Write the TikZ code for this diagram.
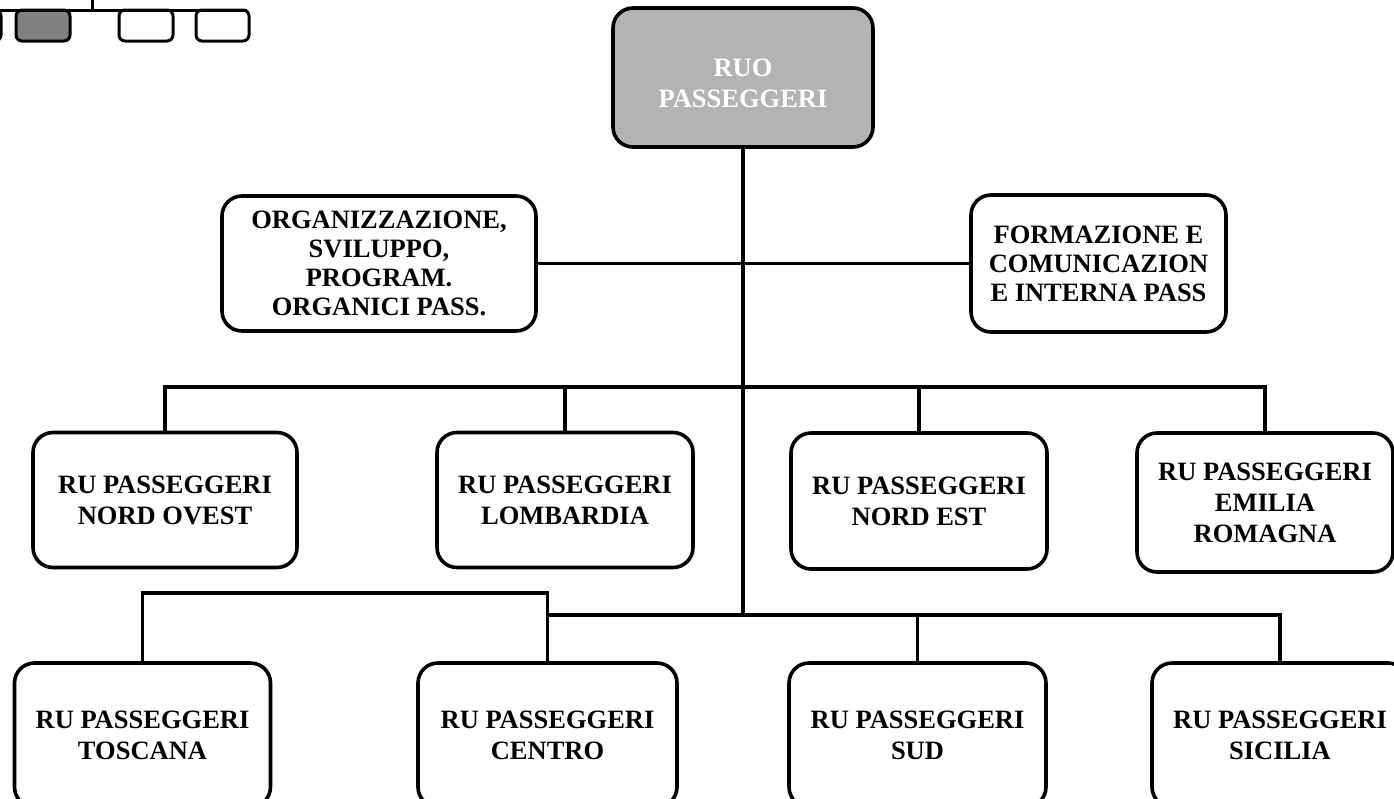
\documentclass[tikz,border=0pt]{standalone}
\usepackage{fontspec}
\setmainfont{Liberation Serif}
\definecolor{boxgray}{RGB}{179,179,179}
\definecolor{icongray}{RGB}{128,128,128}
\begin{document}
\begin{tikzpicture}[x=1pt,y=-1pt,
  unit/.style={draw=black,line width=3.6pt,rounded corners=20pt,fill=white,
    align=center,inner sep=0pt,font=\bfseries\fontsize{26.5}{31}\selectfont},
  staff/.style={unit,font=\bfseries\fontsize{26.5}{29}\selectfont},
  link/.style={line width=3.2pt,line cap=rect},
  iconbox/.style={draw=black,line width=3pt,rounded corners=6pt}]
\useasboundingbox (0,0) rectangle (1394,798);
% small icon, top left
\draw[iconbox] (-60,10) rectangle (1,41);
\draw[iconbox,fill=icongray] (16,10) rectangle (70,41);
\draw[iconbox] (119,10) rectangle (173,41);
\draw[iconbox] (196,10) rectangle (249,41);
\draw[line width=3pt] (0,10) -- (247,10);
\draw[line width=3pt] (92,0) -- (92,10);
% nodes
\node[unit,fill=boxgray,minimum width=260pt,minimum height=139pt] (ruo) at (743,77.5) {};
\node[align=center,inner sep=0pt,text=white,font=\bfseries\fontsize{26.5}{31}\selectfont] (ruotext) at (743,83) {RUO\\PASSEGGERI};
\node[staff,minimum width=314pt,minimum height=135pt] (org) at (379,263.5) {ORGANIZZAZIONE,\\SVILUPPO,\\PROGRAM.\\ORGANICI PASS.};
\node[staff,minimum width=255pt,minimum height=137pt] (form) at (1098.5,263.5) {FORMAZIONE E\\COMUNICAZION\\E INTERNA PASS};
\node[unit,minimum width=264pt,minimum height=135pt] (no) at (165,500) {RU PASSEGGERI\\NORD OVEST};
\node[unit,minimum width=256pt,minimum height=135pt] (lo) at (565,500) {RU PASSEGGERI\\LOMBARDIA};
\node[unit,minimum width=256pt,minimum height=136pt] (ne) at (919,501) {RU PASSEGGERI\\NORD EST};
\node[unit,minimum width=256pt,minimum height=139pt] (em) at (1265,502.5) {RU PASSEGGERI\\EMILIA\\ROMAGNA};
\node[unit,minimum width=256pt,minimum height=144pt] (tos) at (142.5,735) {RU PASSEGGERI\\TOSCANA};
\node[unit,minimum width=259pt,minimum height=144pt] (cen) at (547.5,735) {RU PASSEGGERI\\CENTRO};
\node[unit,minimum width=257pt,minimum height=144pt] (sud) at (917.5,735) {RU PASSEGGERI\\SUD};
\node[unit,minimum width=256pt,minimum height=144pt] (sic) at (1280,735) {RU PASSEGGERI\\SICILIA};
% bus coordinates
\coordinate (bA) at (0,387);
\coordinate (bB) at (0,615);
\coordinate (bT) at (0,593);
% connectors
\draw[link] (ruo.south) -- (ruo.south |- bB);
\draw[link] (org.east) -- (form.west);
\draw[link] (no.north) |- (em.north |- bA) -- (em.north);
\draw[link] (lo.north) -- (lo.north |- bA);
\draw[link] (ne.north) -- (ne.north |- bA);
\draw[link] (tos.north) |- (cen.north |- bT) -- (cen.north);
\draw[link] (cen.north |- bB) -| (sic.north);
\draw[link] (sud.north) -- (sud.north |- bB);
\end{tikzpicture}
\end{document}
